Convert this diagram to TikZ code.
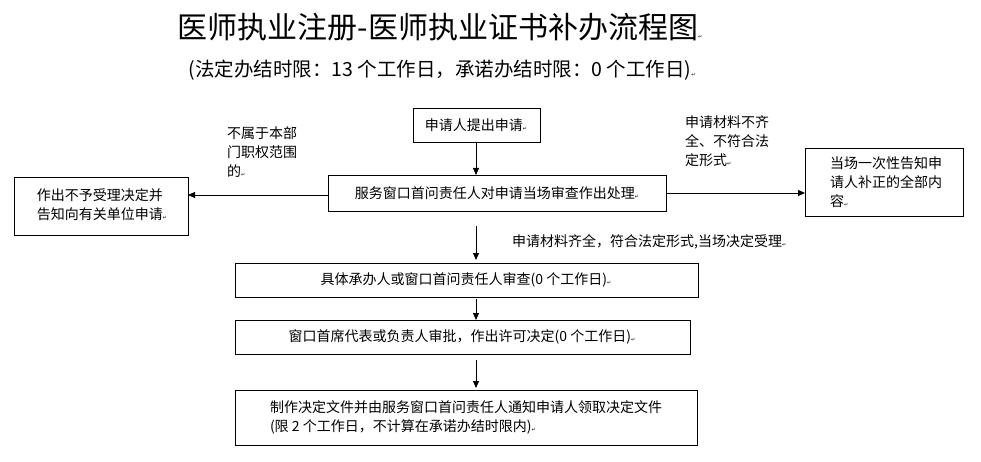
\documentclass[tikz,border=0pt]{standalone}
\usepackage{fontspec}
\setmainfont{Noto Sans CJK SC}
\newfontfamily\symf{DejaVu Sans}
\usetikzlibrary{arrows.meta}
\newcommand{\pmk}{{\symf\tiny ↵}}
\tikzset{
  lbl/.style={font=\fontsize{14}{19}\selectfont,align=left,inner sep=0pt},
  arr/.style={-{Triangle[length=7pt,width=6pt]},line width=0.8pt}
}
\begin{document}
\begin{tikzpicture}[x=1pt,y=-1pt]
\useasboundingbox (0,0) rectangle (981,462);
\node[font=\fontsize{30}{34}\selectfont,inner sep=0pt] (t) at (440,27) {医师执业注册-医师执业证书补办流程图\pmk};
\node[font=\fontsize{19.5}{22}\selectfont,inner sep=0pt] (st) at (442,70) {(法定办结时限：13 个工作日，承诺办结时限：0 个工作日)\pmk};
\draw[line width=0.8pt] (413,108) rectangle (540,142);
\node[lbl] (a) at (476,125) {申请人提出申请\pmk};
\draw[line width=0.8pt] (328,175) rectangle (666,211);
\node[lbl] (b) at (497,193) {服务窗口首问责任人对申请当场审查作出处理\pmk};
\draw[line width=0.8pt] (14,177) rectangle (188,235);
\node[lbl] (l) at (102,205) {作出不予受理决定并\\告知向有关单位申请\pmk};
\draw[line width=0.8pt] (805,148) rectangle (963,216);
\node[lbl] (r) at (886,182) {当场一次性告知申\\请人补正的全部内\\容\pmk};
\node[lbl] (ll) at (262,152) {不属于本部\\门职权范围\\的\pmk};
\node[lbl] (rl) at (727,141) {申请材料不齐\\全、不符合法\\定形式\pmk};
\draw[line width=0.8pt] (235,263) rectangle (698,297);
\node[lbl] (c) at (466,280) {具体承办人或窗口首问责任人审查(0 个工作日)\pmk};
\draw[line width=0.8pt] (235,320) rectangle (690,354);
\node[lbl] (d) at (462,337) {窗口首席代表或负责人审批，作出许可决定(0 个工作日)\pmk};
\draw[line width=0.8pt] (235,390) rectangle (697,445);
\node[lbl] (e) at (466,417) {制作决定文件并由服务窗口首问责任人通知申请人领取决定文件\\(限 2 个工作日，不计算在承诺办结时限内)\pmk};
\node[lbl,anchor=west] (ml) at (512,242) {申请材料齐全，符合法定形式,当场决定受理\pmk};
\coordinate (a1) at (476,143); \coordinate (a2) at (476,175);
\coordinate (b1) at (328,195); \coordinate (b2) at (188,195);
\coordinate (c1) at (666,193); \coordinate (c2) at (805,193);
\coordinate (d1) at (476,226); \coordinate (d2) at (476,260);
\coordinate (e1) at (476,299); \coordinate (e2) at (476,320);
\coordinate (f1) at (476,360); \coordinate (f2) at (476,388);
\draw[arr] (a1)--(a2);
\draw[arr] (b1)--(b2);
\draw[arr] (c1)--(c2);
\draw[arr] (d1)--(d2);
\draw[arr] (e1)--(e2);
\draw[arr] (f1)--(f2);
\end{tikzpicture}
\end{document}
